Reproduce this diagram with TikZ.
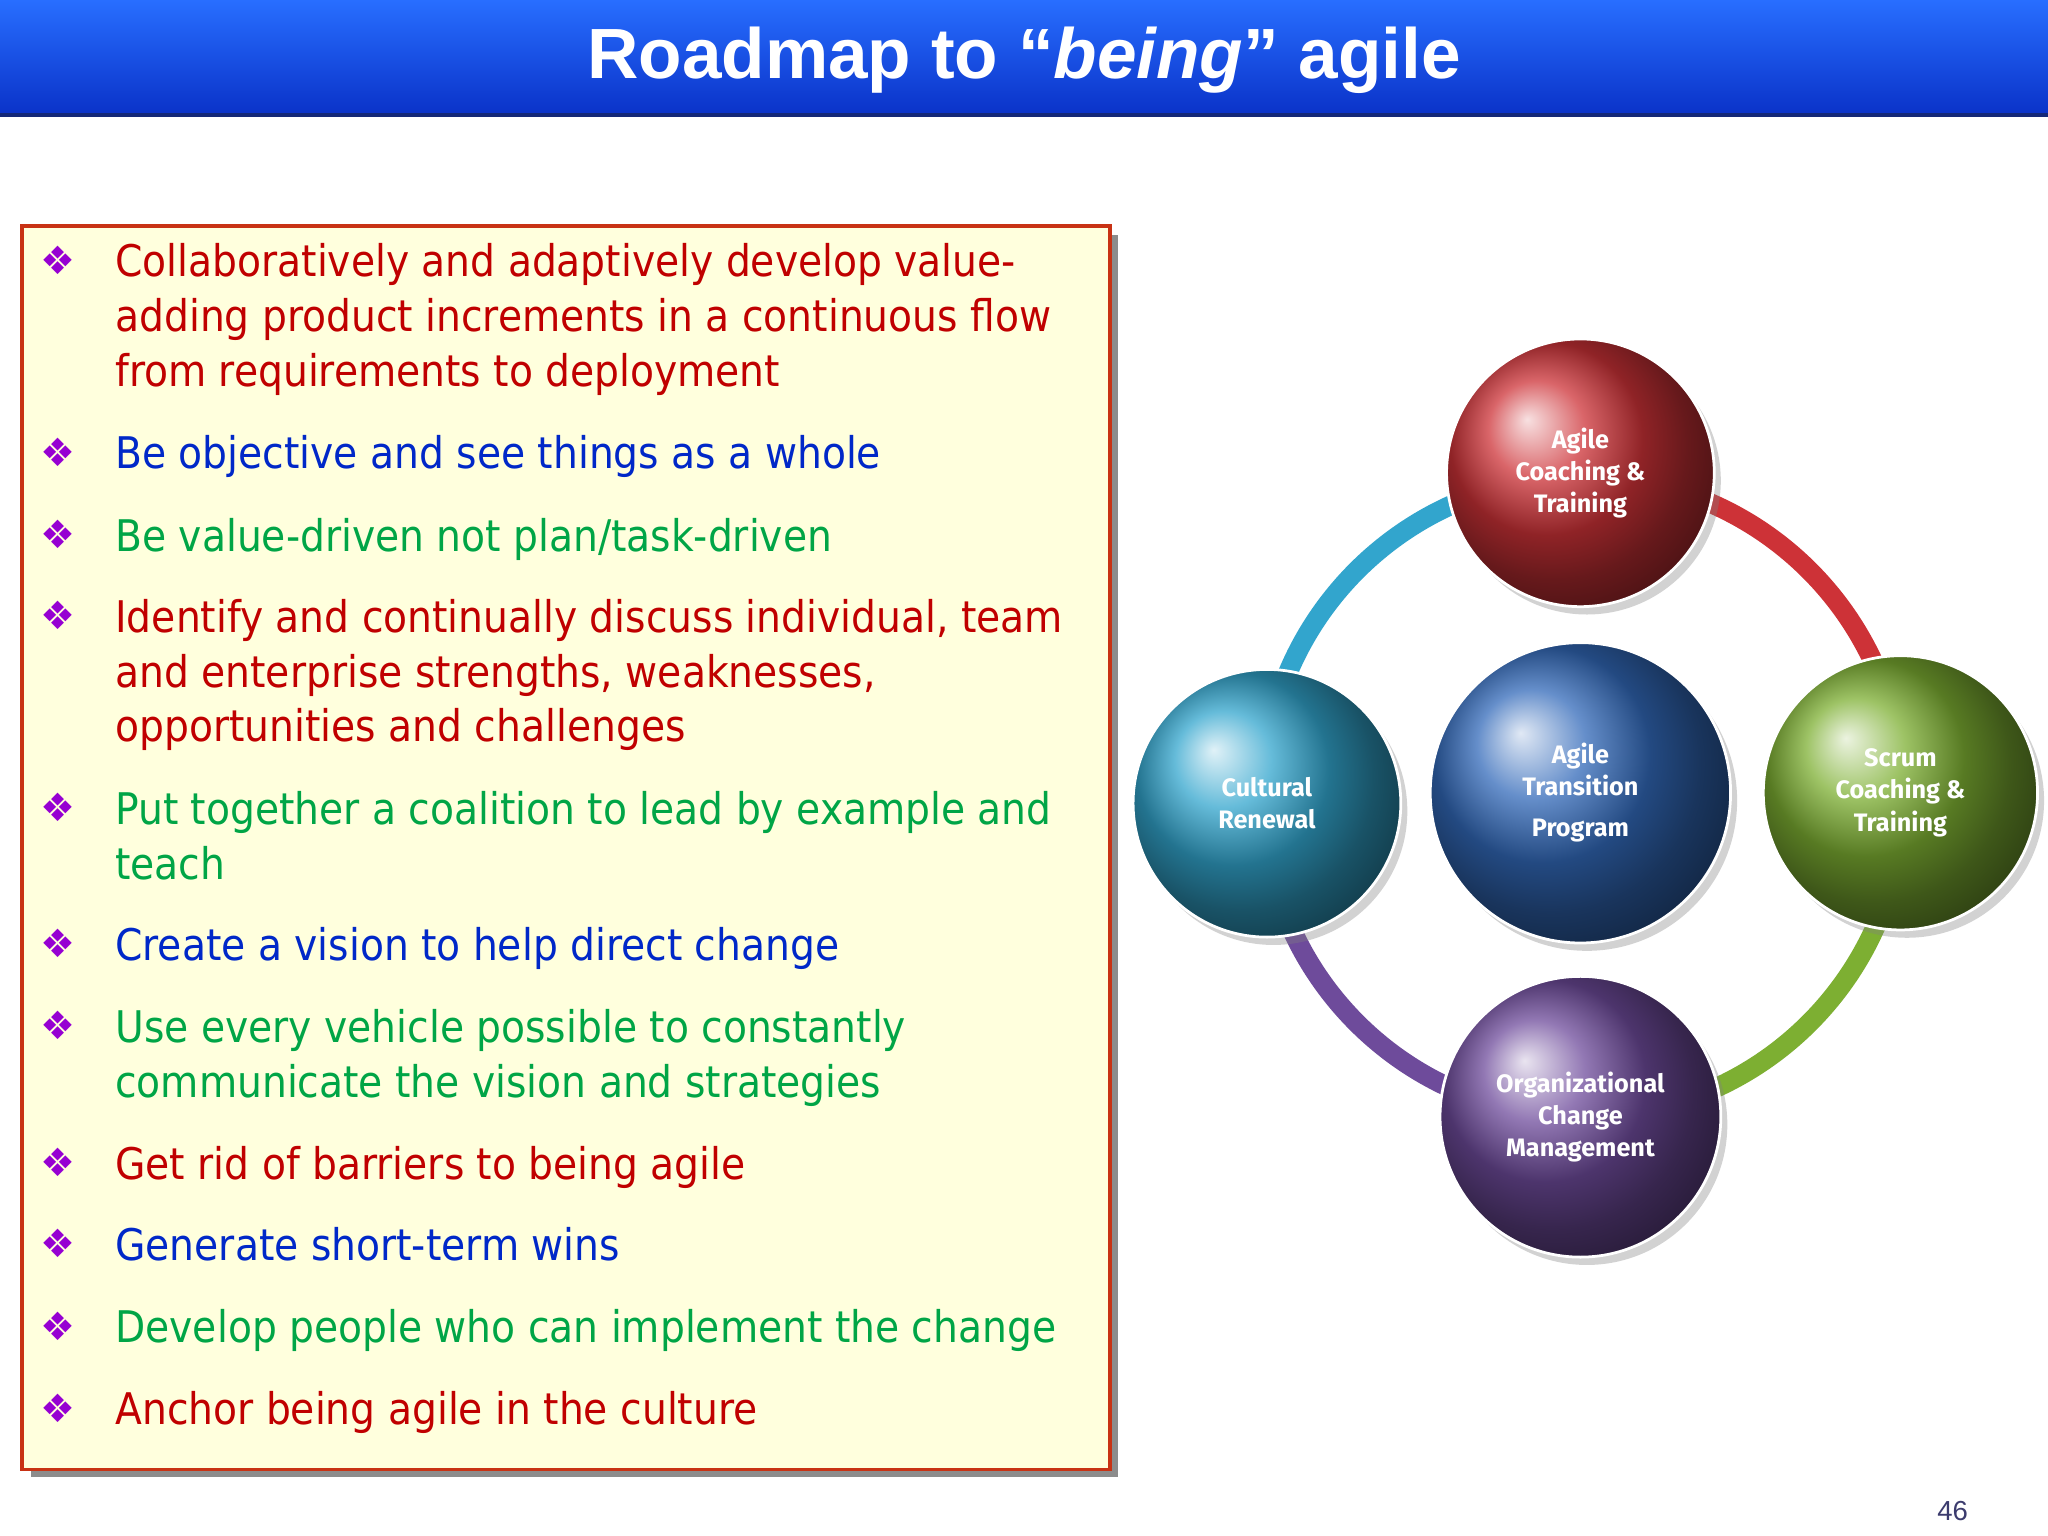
\documentclass[tikz,border=0pt]{standalone}
\usepackage{fontspec}
\setmainfont{DejaVu Sans Condensed}
\newfontfamily\titlefont{Liberation Sans}
\newfontfamily\circfont{Fira Sans}
\newfontfamily\symfont{DejaVu Sans}
\usetikzlibrary{shadows}
\definecolor{tred}{RGB}{192,0,0}
\definecolor{tblue}{RGB}{0,40,200}
\definecolor{tgreen}{RGB}{0,165,70}
\definecolor{bul}{RGB}{150,0,210}
\definecolor{boxfill}{RGB}{255,255,221}
\definecolor{boxline}{RGB}{200,50,20}
\definecolor{cred}{RGB}{205,50,55}
\definecolor{cgreen}{RGB}{125,175,50}
\definecolor{ccyan}{RGB}{50,165,205}
\definecolor{cblue}{RGB}{50,105,185}
\definecolor{cpurp}{RGB}{110,75,155}
\definecolor{titletop}{RGB}{40,110,255}
\definecolor{titlebot}{RGB}{10,50,200}
\definecolor{titleline}{RGB}{20,40,120}
\definecolor{pgcol}{RGB}{60,60,110}
\tikzset{
  ln/.style={anchor=base west, inner sep=0pt, font=\fontsize{19}{23}\selectfont},
  bl/.style={anchor=base west, inner sep=0pt, text=bul, font=\symfont\fontsize{17}{20}\selectfont},
  ball/.style={circle, minimum size=#1, inner sep=0pt, text=white, align=center,
    font=\circfont\bfseries\fontsize{11}{14}\selectfont, draw=white, line width=1.2pt, drop shadow={opacity=0.35, shadow xshift=0.1cm, shadow yshift=-0.12cm}},
  ring/.style={line width=0.3cm}
}
\begin{document}
\begin{tikzpicture}[x=0.02cm,y=-0.02cm]
\useasboundingbox (0,0) rectangle (1568,1176);
\fill[white] (0,0) rectangle (1568,1176);
% title bar
\shade[top color=titletop, bottom color=titlebot] (0,0) rectangle (1568,88);
\draw[titleline, line width=2pt] (0,88) -- (1568,88);
\node[text=white, font=\titlefont\bfseries\fontsize{31}{36}\selectfont] (title) at (784,46) {Roadmap to “\textit{being}” agile};
% box
\fill[black!45] (24,180) rectangle (856,1131);
\draw[boxline, line width=1.6pt, fill=boxfill] (17,173) rectangle (850,1125);
\foreach \y in {200,347,410,472,619,723,786,891,953,1016,1079}
  \node[bl] at (31,\y+10) {❖};
\node[ln, text=tred] (l1) at (88,212) {Collaboratively and adaptively develop value-};
\node[ln, text=tred] (l2) at (88,254) {adding product increments in a continuous flow};
\node[ln, text=tred] (l3) at (88,296) {from requirements to deployment};
\node[ln, text=tblue] (l4) at (88,359) {Be objective and see things as a whole};
\node[ln, text=tgreen] (l5) at (88,422) {Be value-driven not plan/task-driven};
\node[ln, text=tred] (l6) at (88,484) {Identify and continually discuss individual, team};
\node[ln, text=tred] (l7) at (88,526) {and enterprise strengths, weaknesses,};
\node[ln, text=tred] (l8) at (88,568) {opportunities and challenges};
\node[ln, text=tgreen] (l9) at (88,631) {Put together a coalition to lead by example and};
\node[ln, text=tgreen] (l10) at (88,673) {teach};
\node[ln, text=tblue] (l11) at (88,735) {Create a vision to help direct change};
\node[ln, text=tgreen] (l12) at (88,798) {Use every vehicle possible to constantly};
\node[ln, text=tgreen] (l13) at (88,840) {communicate the vision and strategies};
\node[ln, text=tred] (l14) at (88,903) {Get rid of barriers to being agile};
\node[ln, text=tblue] (l15) at (88,965) {Generate short-term wins};
\node[ln, text=tgreen] (l16) at (88,1028) {Develop people who can implement the change};
\node[ln, text=tred] (l17) at (88,1091) {Anchor being agile in the culture};
% ring
\draw[ring, ccyan] (1212-245,610) arc[start angle=180, end angle=90, radius=4.9cm];
\draw[ring, cred] (1212,610-245) arc[start angle=90, end angle=0, radius=4.9cm];
\draw[ring, cgreen] (1212+245,610) arc[start angle=0, end angle=-90, radius=4.9cm];
\draw[ring, cpurp] (1212,610+245) arc[start angle=-90, end angle=-180, radius=4.9cm];
% balls
\node[ball=4.1cm, shading=ball, ball color=cred] (top) at (1210,362) {Agile\\Coaching \&\\Training};
\node[ball=4.1cm, shading=ball, ball color=ccyan] (left) at (970,615) {Cultural\\Renewal};
\node[ball=4.2cm, shading=ball, ball color=cgreen] (right) at (1455,607) {Scrum\\Coaching \&\\Training};
\node[ball=4.3cm, shading=ball, ball color=cpurp] (bot) at (1210,855) {Organizational\\Change\\Management};
\node[ball=4.6cm, shading=ball, ball color=cblue] (mid) at (1210,607) {Agile\\Transition\\[4pt]Program};
% page number
\node[text=pgcol, font=\titlefont\fontsize{12}{14}\selectfont] (pg) at (1495,1157) {46};
\end{tikzpicture}
\end{document}
